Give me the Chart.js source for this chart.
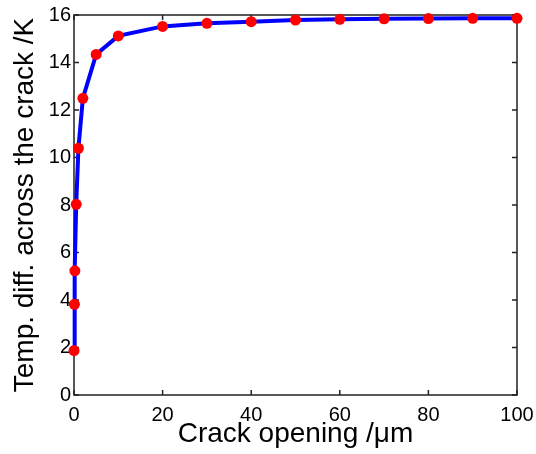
<!DOCTYPE html>
<html>
<head>
<meta charset="utf-8">
<script src="https://cdn.jsdelivr.net/npm/chart.js@4/dist/chart.umd.min.js"></script>
<style>
  html, body { margin: 0; padding: 0; background: #fff; }
  #wrap { width: 536px; height: 454px; }
</style>
</head>
<body>
<div id="wrap"><canvas id="crackChart"></canvas></div>
<script>
// crack opening (um) and temperature difference (K)
const openings = [0.01, 0.1, 0.2, 0.5, 1, 2, 5, 10, 20, 30, 40, 50, 60, 70, 80, 90, 100];
const tempDiff = [1.87, 3.82, 5.23, 8.03, 10.39, 12.49, 14.34, 15.12, 15.52, 15.65, 15.72, 15.79, 15.82, 15.84, 15.85, 15.86, 15.86];
const xTicks = [0, 20, 40, 60, 80, 100];
const yTicks = [0, 2, 4, 6, 8, 10, 12, 14, 16];

const points = openings.map((x, i) => ({ x: x, y: tempDiff[i] }));

// matlab style box with inward ticks on all four sides
const boxPlugin = {
  id: 'boxPlugin',
  beforeDatasetsDraw(chart) {
    const ctx = chart.ctx;
    const a = chart.chartArea;
    const xs = chart.scales.x, ys = chart.scales.y;
    const len = 5;
    ctx.save();
    ctx.strokeStyle = '#222';
    ctx.lineWidth = 1.5;
    ctx.strokeRect(a.left, a.top, a.right - a.left, a.bottom - a.top);
    ctx.beginPath();
    xTicks.forEach(v => {
      const px = xs.getPixelForValue(v);
      ctx.moveTo(px, a.bottom); ctx.lineTo(px, a.bottom - len);
      ctx.moveTo(px, a.top); ctx.lineTo(px, a.top + len);
    });
    yTicks.forEach(v => {
      const py = ys.getPixelForValue(v);
      ctx.moveTo(a.left, py); ctx.lineTo(a.left + len, py);
      ctx.moveTo(a.right, py); ctx.lineTo(a.right - len, py);
    });
    ctx.stroke();
    ctx.restore();
  }
};

const ctx = document.getElementById('crackChart').getContext('2d');
const crackChart = new Chart(ctx, {
  type: 'line',
  data: {
    datasets: [{
      data: points,
      borderColor: '#0000ff',
      borderWidth: 4,
      pointBackgroundColor: '#ff0000',
      pointBorderColor: '#ff0000',
      pointRadius: 5.5,
      pointBorderWidth: 0,
      tension: 0,
      clip: false
    }]
  },
  options: {
    responsive: true,
    maintainAspectRatio: false,
    animation: false,
    layout: { padding: { top: 15, right: 19, bottom: 0, left: 0 } },
    plugins: {
      legend: { display: false },
      tooltip: { enabled: false }
    },
    scales: {
      x: {
        type: 'linear',
        min: 0,
        max: 100,
        grid: { display: false, drawTicks: false },
        border: { display: false },
        afterFit: s => { s.height = 59; s.paddingLeft = 0; s.paddingRight = 0; },
        afterBuildTicks: s => { s.ticks = xTicks.map(v => ({ value: v })); },
        ticks: {
          color: '#000',
          padding: 8,
          maxRotation: 0,
          font: { family: 'Liberation Sans', size: 20 }
        },
        title: {
          display: true,
          text: 'Crack opening /\u03bcm',
          color: '#000',
          padding: { top: 0, bottom: 3 },
          font: { family: 'Liberation Sans', size: 28 }
        }
      },
      y: {
        min: 0,
        max: 16,
        grid: { display: false, drawTicks: false },
        border: { display: false },
        afterFit: s => { s.width = 74; s.paddingTop = 0; s.paddingBottom = 0; },
        afterBuildTicks: s => { s.ticks = yTicks.map(v => ({ value: v })); },
        ticks: {
          color: '#000',
          padding: 3,
          font: { family: 'Liberation Sans', size: 20 }
        },
        title: {
          display: true,
          text: 'Temp. diff. across the crack /K',
          color: '#000',
          padding: { top: 8, bottom: 0 },
          font: { family: 'Liberation Sans', size: 28 }
        }
      }
    }
  },
  plugins: [boxPlugin]
});
</script>
</body>
</html>
